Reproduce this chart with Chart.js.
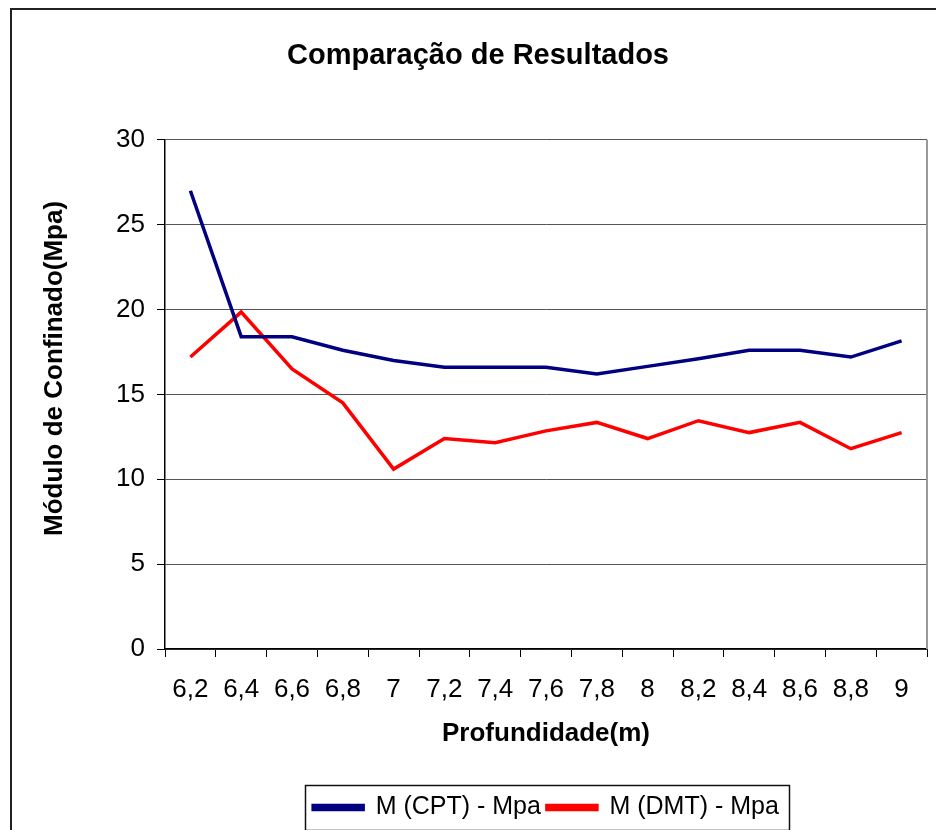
<!DOCTYPE html>
<html>
<head>
<meta charset="utf-8">
<title>Comparação de Resultados</title>
<script src="https://cdn.jsdelivr.net/npm/chart.js@4/dist/chart.umd.min.js"></script>
<style>
  html, body { margin: 0; padding: 0; background: #fff; }
  #wrap { width: 936px; height: 830px; }
</style>
</head>
<body>
<div id="wrap"><canvas id="myChart" width="936" height="830"></canvas></div>
<script>
// profundidade (m) e módulos M medidos
const depths = ["6,2", "6,4", "6,6", "6,8", "7", "7,2", "7,4", "7,6", "7,8", "8", "8,2", "8,4", "8,6", "8,8", "9"];
const cptValues = [27.0, 18.4, 18.4, 17.6, 17.0, 16.6, 16.6, 16.6, 16.2, 16.65, 17.1, 17.6, 17.6, 17.2, 18.15];
const dmtValues = [17.2, 19.85, 16.5, 14.5, 10.6, 12.4, 12.15, 12.85, 13.35, 12.4, 13.45, 12.75, 13.35, 11.8, 12.75];
const yRange = [0, 30];
const yStep = 5;

const fontFamily = "'Liberation Sans', Arial, sans-serif";
const yTitle = "Módulo de Confinado(Mpa)";

// moldura externa, borda da área de plotagem, caixa da legenda e título do eixo Y
const extras = {
  id: "extras",
  beforeDraw(chart) {
    const ctx = chart.ctx;
    ctx.save();
    ctx.fillStyle = "#fff";
    ctx.fillRect(0, 0, chart.width, chart.height);
    ctx.strokeStyle = "#222";
    ctx.lineWidth = 2;
    ctx.strokeRect(11, 9, chart.width + 20, chart.height + 20);
    ctx.restore();
  },
  afterDraw(chart) {
    const ctx = chart.ctx;
    const area = chart.chartArea;
    ctx.save();
    ctx.strokeStyle = "#999";
    ctx.lineWidth = 2;
    ctx.beginPath();
    ctx.moveTo(area.right, area.top);
    ctx.lineTo(area.right, area.bottom);
    ctx.stroke();

    const boxes = chart.legend.legendHitBoxes;
    if (boxes && boxes.length) {
      const left = Math.min(...boxes.map((b) => b.left)) - 8;
      const right = Math.max(...boxes.map((b) => b.left + b.width)) + 10;
      const top = Math.min(...boxes.map((b) => b.top)) - 10;
      const bottom = Math.max(...boxes.map((b) => b.top + b.height)) + 10;
      ctx.strokeStyle = "#111";
      ctx.lineWidth = 1.5;
      ctx.strokeRect(Math.round(left) + 0.5, Math.round(top) + 0.5, Math.round(right - left), Math.round(bottom - top));
    }

    ctx.fillStyle = "#000";
    ctx.font = "bold 26px " + fontFamily;
    ctx.textAlign = "center";
    ctx.textBaseline = "middle";
    ctx.translate(55, (area.top + area.bottom) / 2 - 26);
    ctx.rotate(-Math.PI / 2);
    ctx.fillText(yTitle, 0, 0);
    ctx.restore();
  },
};

const data = {
  labels: depths,
  datasets: [
    {
      label: "M (CPT) - Mpa",
      data: cptValues,
      borderColor: "#000080",
      backgroundColor: "#000080",
      borderWidth: 3.5,
      pointRadius: 0,
      tension: 0,
    },
    {
      label: "M (DMT) - Mpa",
      data: dmtValues,
      borderColor: "#ff0000",
      backgroundColor: "#ff0000",
      borderWidth: 3.5,
      pointRadius: 0,
      tension: 0,
    },
  ],
};

const config = {
  type: "line",
  data,
  options: {
    responsive: false,
    animation: false,
    devicePixelRatio: 1,
    layout: { padding: { top: 0, left: 29, right: 9, bottom: 0 } },
    plugins: {
      title: {
        display: true,
        text: "Comparação de Resultados",
        color: "#000",
        font: { family: fontFamily, size: 29, weight: "bold" },
        padding: { top: 39, bottom: 66 },
      },
      legend: {
        position: "bottom",
        fullSize: false,
        labels: {
          color: "#000",
          font: { family: fontFamily, size: 25 },
          boxWidth: 50,
          boxHeight: 4,
          padding: 6,
        },
      },
      tooltip: { enabled: false },
    },
    scales: {
      x: {
        offset: true,
        grid: {
          offset: true,
          drawOnChartArea: false,
          color: "#000",
          tickLength: 8,
        },
        border: { color: "#000", width: 1.5 },
        ticks: {
          color: "#000",
          font: { family: fontFamily, size: 26 },
          padding: 17,
          maxRotation: 0,
          autoSkip: false,
        },
        title: {
          display: true,
          text: "Profundidade(m)",
          color: "#000",
          font: { family: fontFamily, size: 26, weight: "bold" },
          padding: { top: 0, bottom: 40 },
        },
        afterFit(scale) {
          scale.height = 140;
        },
      },
      y: {
        min: yRange[0],
        max: yRange[1],
        grid: { color: "#555", tickLength: 8, tickColor: "#000" },
        border: { color: "#000", width: 1.5 },
        ticks: {
          stepSize: yStep,
          color: "#000",
          font: { family: fontFamily, size: 26 },
          padding: 12,
        },
        afterFit(scale) {
          scale.width = 136;
        },
      },
    },
  },
  plugins: [extras],
};

let myChart = new Chart(document.getElementById("myChart"), config);
</script>
</body>
</html>
